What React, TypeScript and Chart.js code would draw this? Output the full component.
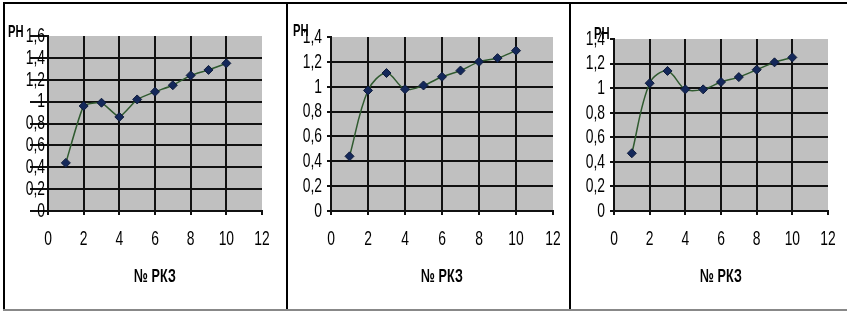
import React, { useEffect, useRef } from "react";
import { Chart, registerables } from "chart.js";

Chart.register(...registerables);

// ---- data ----
const pkzNumbers = [1, 2, 3, 4, 5, 6, 7, 8, 9, 10];
const phSeries1 = [0.44, 0.96, 0.99, 0.86, 1.02, 1.09, 1.15, 1.24, 1.29, 1.35];
const phSeries2 = [0.44, 0.97, 1.11, 0.98, 1.01, 1.08, 1.13, 1.2, 1.23, 1.29];
const phSeries3 = [0.47, 1.04, 1.14, 0.99, 0.99, 1.05, 1.09, 1.15, 1.21, 1.25];
const yMaxValues = [1.6, 1.4, 1.4];
const xMin = 0;
const xMax = 12;
const xStep = 2;
const yStep = 0.2;
const xTitle = "№ РКЗ";
const yTitle = "PH";

const FONT = "'Liberation Sans', Arial, sans-serif";
const NARROW = 0.66;

type PanelCfg = {
  values: number[];
  yMax: number;
  canvasLeft: number;
  canvasWidth: number;
  chartLeft: number;
  chartRight: number;
  chartTop: number;
  phX: number;
  phY: number;
  longTicks: boolean;
  tension: number;
};

const CANVAS_TOP = 4;
const CANVAS_HEIGHT = 304;
const CHART_BOTTOM = 211;
const Y_AXIS_W = 40;

function fmt(v: number) {
  const r = Math.round(v * 10) / 10;
  return String(r).replace(".", ",");
}

function Panel({ cfg }: { cfg: PanelCfg }) {
  const ref = useRef<HTMLCanvasElement>(null);
  useEffect(() => {
    if (!ref.current) return;
    const padLeft = cfg.chartLeft - cfg.canvasLeft - Y_AXIS_W;
    const padRight = cfg.canvasLeft + cfg.canvasWidth - cfg.chartRight;
    const padTop = cfg.chartTop - CANVAS_TOP;
    const xAxisH = CANVAS_HEIGHT - (CHART_BOTTOM - CANVAS_TOP);
    const isMax = (v: number, m: number) => Math.abs(v - m) < 1e-6;

    // condensed text rendering: horizontally squeeze every label around its anchor
    const ctx2d = ref.current.getContext("2d") as any;
    const origFill = ctx2d.fillText.bind(ctx2d);
    ctx2d.fillText = function (text: string, x: number, y: number, maxWidth?: number) {
      ctx2d.save();
      ctx2d.translate(x, y);
      ctx2d.scale(NARROW, 1);
      if (maxWidth !== undefined) origFill(text, 0, 0, maxWidth / NARROW);
      else origFill(text, 0, 0);
      ctx2d.restore();
    };

    const bgPlugin = {
      id: "plotBg",
      beforeDraw(chart: any) {
        const { ctx, chartArea } = chart;
        ctx.save();
        ctx.fillStyle = "#c0c0c0";
        ctx.fillRect(chartArea.left, chartArea.top, chartArea.right - chartArea.left, chartArea.bottom - chartArea.top);
        ctx.restore();
      },
      afterDraw(chart: any) {
        const { ctx } = chart;
        ctx.save();
        ctx.fillStyle = "#000";
        ctx.font = `bold 17px ${FONT}`;
        ctx.textBaseline = "middle";
        ctx.textAlign = "left";
        ctx.fillText(yTitle, cfg.phX - cfg.canvasLeft, cfg.phY - CANVAS_TOP);
        ctx.restore();
      },
    };

    const chart = new Chart(ref.current, {
      type: "line",
      data: {
        datasets: [
          {
            data: pkzNumbers.map((x, i) => ({ x, y: cfg.values[i] })),
            borderColor: "#2f5a2f",
            borderWidth: 1.5,
            tension: cfg.tension,
            pointStyle: "rectRot",
            pointRadius: 4.5,
            pointBackgroundColor: "#14285a",
            pointBorderColor: "#0d1a3a",
            pointBorderWidth: 1,
            fill: false,
          },
        ],
      },
      options: {
        responsive: false,
        animation: false,
        events: [],
        layout: { padding: { left: padLeft, right: padRight, top: padTop, bottom: 0 } },
        plugins: { legend: { display: false }, tooltip: { enabled: false } },
        scales: {
          x: {
            type: "linear",
            min: xMin,
            max: xMax,
            afterFit: (s: any) => {
              s.height = xAxisH;
              s.paddingLeft = 0;
              s.paddingRight = 0;
            },
            ticks: {
              stepSize: xStep,
              autoSkip: false,
              maxRotation: 0,
              color: "#000",
              padding: 12,
              font: { family: FONT, size: 21 },
              callback: (v: any) => String(v),
            },
            grid: {
              color: (c: any) => (c.tick && isMax(c.tick.value, xMax) ? "rgba(0,0,0,0)" : "#111"),
              tickColor: "#111",
              lineWidth: 2,
              tickLength: 4,
            },
            border: { display: true, color: "#111", width: 2 },
            title: {
              display: true,
              text: xTitle,
              color: "#000",
              font: { family: FONT, size: 19, weight: "bold" },
              padding: { top: 0, bottom: 20 },
            },
          },
          y: {
            type: "linear",
            min: 0,
            max: cfg.yMax,
            afterFit: (s: any) => {
              s.width = Y_AXIS_W;
              s.paddingTop = 0;
              s.paddingBottom = 0;
            },
            ticks: {
              stepSize: yStep,
              autoSkip: false,
              color: "#000",
              padding: cfg.longTicks ? -15 : 5,
              font: { family: FONT, size: 21 },
              callback: (v: any) => fmt(Number(v)),
            },
            grid: {
              color: (c: any) => (c.tick && isMax(c.tick.value, cfg.yMax) ? "rgba(0,0,0,0)" : "#111"),
              tickColor: "#111",
              lineWidth: 2,
              tickLength: cfg.longTicks ? 18 : 4,
            },
            border: { display: true, color: "#111", width: 2 },
          },
        },
      },
      plugins: [bgPlugin],
    } as any);
    return () => {
      chart.destroy();
      ctx2d.fillText = origFill;
    };
  }, [cfg]);

  return (
    <canvas
      ref={ref}
      width={cfg.canvasWidth}
      height={CANVAS_HEIGHT}
      style={{
        position: "absolute",
        left: cfg.canvasLeft,
        top: CANVAS_TOP,
        width: cfg.canvasWidth,
        height: CANVAS_HEIGHT,
      }}
    />
  );
}

const panels: PanelCfg[] = [
  { values: phSeries1, yMax: yMaxValues[0], canvasLeft: 5, canvasWidth: 280, chartLeft: 48, chartRight: 262, chartTop: 36, phX: 8, phY: 32, longTicks: true, tension: 0.15 },
  { values: phSeries2, yMax: yMaxValues[1], canvasLeft: 288, canvasWidth: 280, chartLeft: 331, chartRight: 553, chartTop: 37, phX: 293, phY: 31, longTicks: false, tension: 0.35 },
  { values: phSeries3, yMax: yMaxValues[2], canvasLeft: 571, canvasWidth: 276, chartLeft: 614, chartRight: 828, chartTop: 39, phX: 594, phY: 34, longTicks: false, tension: 0.35 },
];

export default function App() {
  return (
    <div
      style={{
        position: "fixed",
        left: 0,
        top: 0,
        width: 847,
        height: 311,
        background: "#fff",
        overflow: "hidden",
      }}
    >
      {panels.map((p, i) => (
        <Panel key={i} cfg={p} />
      ))}
      {/* frame lines */}
      <div style={{ position: "absolute", left: 3, top: 2, width: 844, height: 2, background: "#000" }} />
      <div style={{ position: "absolute", left: 3, top: 2, width: 2, height: 308, background: "#000" }} />
      <div style={{ position: "absolute", left: 286, top: 2, width: 2, height: 308, background: "#000" }} />
      <div style={{ position: "absolute", left: 569, top: 2, width: 2, height: 308, background: "#000" }} />
      <div style={{ position: "absolute", left: 3, top: 309, width: 844, height: 2, background: "#888" }} />
    </div>
  );
}
